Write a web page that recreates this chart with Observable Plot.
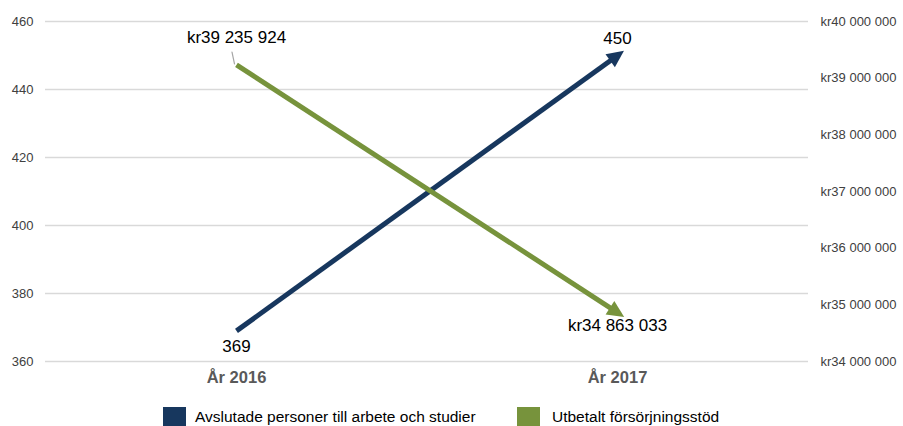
<!DOCTYPE html>
<html><head><meta charset="utf-8">
<script src="https://cdn.jsdelivr.net/npm/d3@7"></script>
<script src="https://cdn.jsdelivr.net/npm/@observablehq/plot@0.6"></script>
<style>
body{margin:0;background:#fff;font-family:"Liberation Sans",Arial,sans-serif;overflow:hidden}
#chart{position:relative;width:903px}
#chart svg{display:block;font-family:"Liberation Sans",Arial,sans-serif}
.legend{position:relative;height:29px;width:903px}
.sw{position:absolute;top:10px;width:23px;height:23px}
.lt{position:absolute;top:12px;font-size:15.5px;line-height:15.5px;color:#000;white-space:nowrap}
</style></head><body>
<div id="chart"></div>
<script>
const years = ["År 2016", "År 2017"];
const avslutade = [369, 450];
const utbetalt = [39235924, 34863033];
const leftTicks = [360, 380, 400, 420, 440, 460];
const rightTicks = [34000000, 35000000, 36000000, 37000000, 38000000, 39000000, 40000000];
const seriesNames = ["Avslutade personer till arbete och studier", "Utbetalt försörjningsstöd"];
const seriesColors = ["#17375e", "#77933c"];

const leftDomain = [360, 460];
const rightDomain = [34000000, 40000000];
const toLeft = d3.scaleLinear().domain(rightDomain).range(leftDomain);
const fmtKr = v => "kr" + d3.format(",")(v).replace(/,/g, " ");

const blueData = years.map((x, i) => ({x, y: avslutade[i], v: avslutade[i]}));
const greenData = years.map((x, i) => ({x, y: toLeft(utbetalt[i]), v: utbetalt[i]}));

function arrowHead(color) {
  const m = d3.create("svg:marker")
    .attr("viewBox", "-12 -10 24 20")
    .attr("markerWidth", 24)
    .attr("markerHeight", 20)
    .attr("markerUnits", "userSpaceOnUse")
    .attr("orient", "auto")
    .attr("fill", color)
    .attr("stroke", "none");
  m.append("path").attr("d", "M-9,-8L8,0L-9,8Z");
  return m.node();
}

const leaderShape = {draw(context, l) { context.moveTo(0, 0); context.lineTo(0, -l); }};

const plot = Plot.plot({
  width: 903,
  height: 397,
  marginTop: 21,
  marginBottom: 36,
  marginLeft: 45,
  marginRight: 95,
  style: {fontFamily: "'Liberation Sans', Arial, sans-serif", background: "#fff"},
  x: {type: "point", domain: years, padding: 0.5},
  y: {domain: leftDomain},
  marks: [
    Plot.gridY(leftTicks, {stroke: "#d9d9d9", strokeOpacity: 1, strokeWidth: 1.3}),
    Plot.axisY(leftTicks, {anchor: "left", tickSize: 0, tickPadding: 12, label: null, fontSize: 13, fill: "#404040"}),
    Plot.axisY(rightTicks.map(toLeft), {anchor: "right", tickSize: 0, tickPadding: 12, label: null, fontSize: 13, fill: "#404040",
      tickFormat: d => fmtKr(Math.round(toLeft.invert(d)))}),
    Plot.axisX({tickSize: 0, tickPadding: 10, label: null, fontSize: 16.5, fontWeight: "bold", fill: "#595959"}),
    Plot.vector(greenData.slice(0, 1), {x: "x", y: "y", length: 12, rotate: -12, anchor: "start", shape: leaderShape,
      stroke: "#a6a6a6", strokeWidth: 1.2, dx: -2, dy: -1}),
    Plot.line(blueData, {x: "x", y: "y", stroke: seriesColors[0], strokeWidth: 5, strokeLinecap: "butt", markerEnd: arrowHead}),
    Plot.line(greenData, {x: "x", y: "y", stroke: seriesColors[1], strokeWidth: 5, strokeLinecap: "butt", markerEnd: arrowHead}),
    Plot.text(blueData.slice(0, 1), {x: "x", y: "y", text: d => String(d.v), dy: 16, fontSize: 17, fill: "#000"}),
    Plot.text(blueData.slice(1), {x: "x", y: "y", text: d => String(d.v), dy: -17, fontSize: 17, fill: "#000"}),
    Plot.text(greenData.slice(0, 1), {x: "x", y: "y", text: d => fmtKr(d.v), dy: -27, fontSize: 17, fill: "#000"}),
    Plot.text(greenData.slice(1), {x: "x", y: "y", text: d => fmtKr(d.v), dy: 13, fontSize: 17, fill: "#000"})
  ]
});
document.getElementById("chart").append(plot);

const legend = document.createElement("div");
legend.className = "legend";
const swLeft = [163, 517];
const txtLeft = [195, 552];
seriesNames.forEach((name, i) => {
  const sw = document.createElement("div");
  sw.className = "sw";
  sw.style.left = swLeft[i] + "px";
  sw.style.background = seriesColors[i];
  const t = document.createElement("div");
  t.className = "lt";
  t.style.left = txtLeft[i] + "px";
  t.textContent = name;
  legend.append(sw, t);
});
document.getElementById("chart").append(legend);
</script>
</body></html>
